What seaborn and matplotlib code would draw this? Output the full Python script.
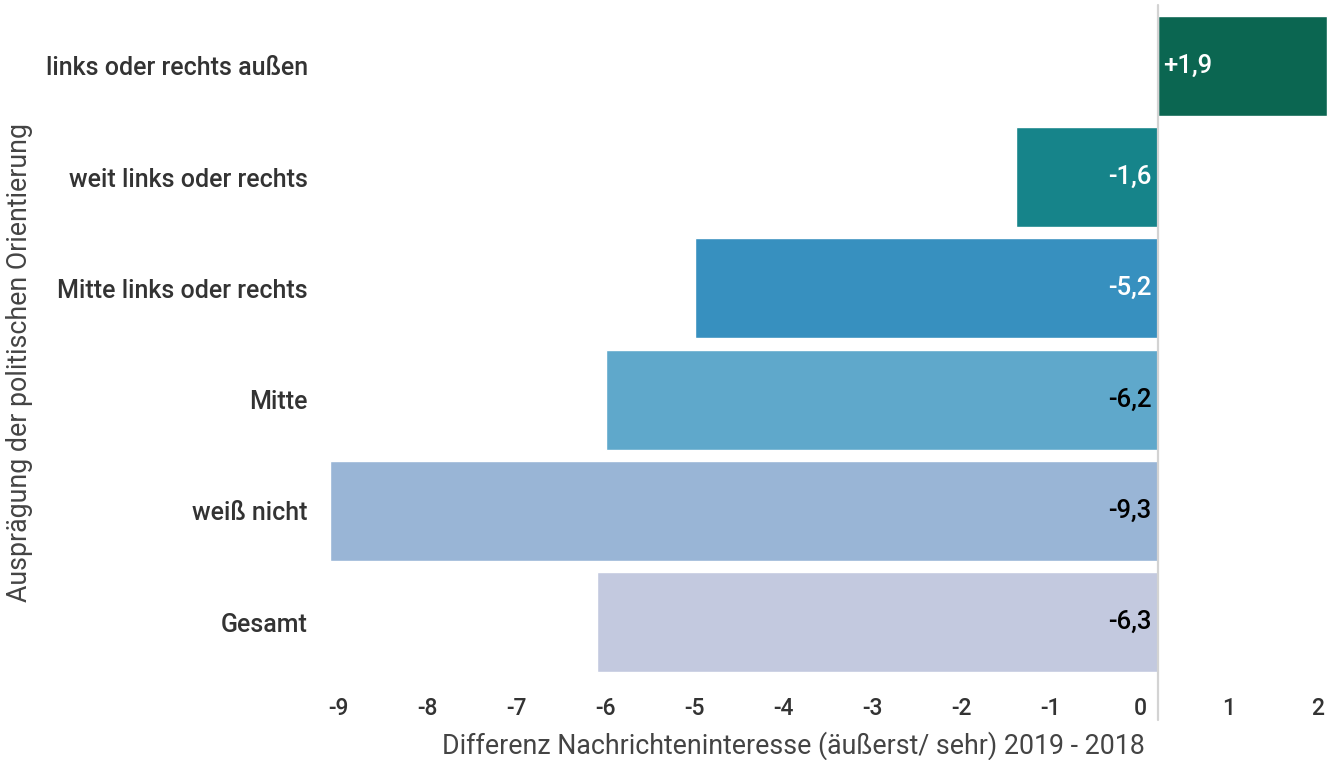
import matplotlib
matplotlib.use("Agg")
import matplotlib.pyplot as plt
import matplotlib.transforms as mtransforms
import seaborn as sns
import pandas as pd

categories = ["links oder rechts außen", "weit links oder rechts", "Mitte links oder rechts",
              "Mitte", "weiß nicht", "Gesamt"]
values = [1.9, -1.6, -5.2, -6.2, -9.3, -6.3]
value_labels = ["+1,9", "-1,6", "-5,2", "-6,2", "-9,3", "-6,3"]
colors = ["#0b6651", "#16848a", "#3790bf", "#5fa8cb", "#99b5d6", "#c3c9df"]
label_colors = ["white", "white", "white", "black", "black", "black"]
xticks = [-9, -8, -7, -6, -5, -4, -3, -2, -1, 0, 1, 2]

sns.set_theme(style="white")
plt.rcParams["font.family"] = ["Roboto", "DejaVu Sans"]

df = pd.DataFrame({"cat": categories, "val": values})

fig = plt.figure(figsize=(13.33, 7.6), dpi=100)
AX_L, AX_R = 330, 1336
ax = fig.add_axes([AX_L / 1333, 82 / 760, (AX_R - AX_L) / 1333, 668 / 760])
sns.barplot(data=df, y="cat", x="val", hue="cat", palette=colors, order=categories,
            hue_order=categories, orient="h", width=0.9, legend=False, ax=ax, saturation=1)

ax.set_xticks(xticks)
ax.set_xticklabels([str(t) for t in xticks])
ax.set_xlim(-9.3, 2.0)
ax.set_ylim(5.5, -0.5)
for s in ax.spines.values():
    s.set_visible(False)

ax.axvline(0, ymin=-0.063, ymax=1.0075, color="#d3d3d3", lw=1.6, clip_on=False, zorder=3)

ax.tick_params(axis="x", length=0, pad=14, labelsize=16.5, labelcolor="#333333")
ax.tick_params(axis="y", length=0, pad=16, labelsize=18, labelcolor="#333333")
offset = mtransforms.ScaledTranslation(-0.18, 0, fig.dpi_scale_trans)
for lab in ax.get_xticklabels():
    lab.set_transform(lab.get_transform() + offset)
    lab.set_fontweight("medium")
for lab in ax.get_yticklabels():
    lab.set_fontweight("medium")

for i, (v, t, c) in enumerate(zip(values, value_labels, label_colors)):
    if v >= 0:
        ax.text(0.06, i, t, ha="left", va="center", fontsize=18.5, color=c, fontweight="medium")
    else:
        ax.text(-0.07, i, t, ha="right", va="center", fontsize=18.5, color=c, fontweight="medium")

ax.set_xlabel("Differenz Nachrichteninteresse (äußerst/ sehr) 2019 - 2018", fontsize=19.3,
              color="#444444")
ax.xaxis.set_label_coords((793 - AX_L) / (AX_R - AX_L), -(731 - 678) / 668)
ax.set_ylabel("Ausprägung der politischen Orientierung", fontsize=19.3, color="#444444")
ax.yaxis.set_label_coords(-(AX_L - 33) / (AX_R - AX_L), (678 - 362) / 668)

fig.savefig("out.png", dpi=100)
